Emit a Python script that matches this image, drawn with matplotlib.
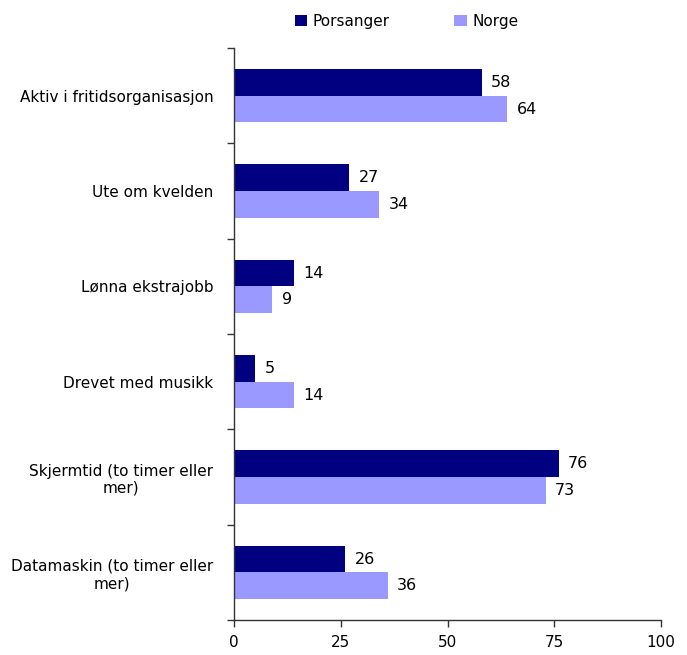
import numpy as np
import matplotlib.pyplot as plt

# Data
categories = ["Aktiv i fritidsorganisasjon", "Ute om kvelden", "Lønna ekstrajobb",
              "Drevet med musikk", "Skjermtid (to timer eller\nmer)",
              "Datamaskin (to timer eller\nmer)"]
porsanger = [58, 27, 14, 5, 76, 26]
norge = [64, 34, 9, 14, 73, 36]
series_names = ["Porsanger", "Norge"]
x_ticks = [0, 25, 50, 75, 100]

dark = "#000080"
light = "#9999ff"

fig = plt.figure(figsize=(6.87, 6.55), dpi=100)
ax = fig.add_axes([0.3406, 0.0534, 0.6216, 0.8733])

n = len(categories)
y = np.arange(n)
h = 0.28
ax.barh(y - h / 2, porsanger, height=h, color=dark, label=series_names[0])
ax.barh(y + h / 2, norge, height=h, color=light, label=series_names[1])

# value labels
for i in range(n):
    ax.text(porsanger[i] + 2.2, y[i] - h / 2, str(porsanger[i]), va="center", ha="left", fontsize=11.5)
    ax.text(norge[i] + 2.2, y[i] + h / 2, str(norge[i]), va="center", ha="left", fontsize=11.5)

ax.set_xlim(0, 100)
ax.set_ylim(n - 0.5, -0.5)
ax.set_xticks(x_ticks)
ax.set_xticklabels([str(t) for t in x_ticks], fontsize=11)
ax.set_yticks(y)
ax.set_yticklabels(categories, fontsize=11, multialignment="center")
ax.set_yticks(np.arange(n + 1) - 0.5, minor=True)
ax.tick_params(axis="y", which="major", length=0, pad=15)
ax.tick_params(axis="y", which="minor", length=5, width=1, color="#333333")
ax.tick_params(axis="x", length=5, width=1, color="#333333", pad=6)

for s in ["top", "right"]:
    ax.spines[s].set_visible(False)
for s in ["left", "bottom"]:
    ax.spines[s].set_color("#333333")
    ax.spines[s].set_linewidth(1)

fig.legend(loc="upper center", bbox_to_anchor=(0.592, 1.0), ncol=2, frameon=False,
           fontsize=11, handlelength=0.8, handleheight=0.8, columnspacing=4.2,
           handletextpad=0.4)

fig.savefig("out.png", dpi=100)
